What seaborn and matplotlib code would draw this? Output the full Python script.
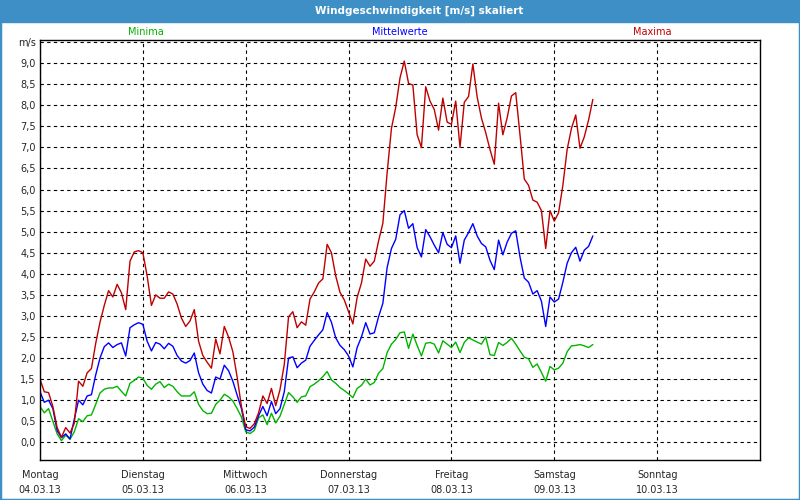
import numpy as np
import pandas as pd
import matplotlib
matplotlib.use("Agg")
import matplotlib.pyplot as plt
import seaborn as sns
from matplotlib.patches import Rectangle

# Stundenwerte ab Montag 04.03.13 00:00
maxima = [1.5, 1.2, 1.18, 0.85, 0.35, 0.12, 0.35, 0.22, 0.45, 1.45, 1.33, 1.65, 1.75, 2.35, 2.85, 3.25,
          3.6, 3.45, 3.75, 3.55, 3.15, 4.3, 4.52, 4.55, 4.5,
          3.95, 3.25, 3.5, 3.42, 3.42, 3.57, 3.52, 3.28, 2.95, 2.75, 2.88, 3.15, 2.4, 2.06, 1.9, 1.76,
          2.45, 2.1, 2.75, 2.5, 2.15, 1.55, 0.85, 0.37,
          0.33, 0.44, 0.7, 1.1, 0.92, 1.28, 0.87, 1.25, 1.85, 2.98, 3.1, 2.72, 2.86, 2.78, 3.4, 3.57,
          3.78, 3.88, 4.7, 4.5, 3.95, 3.56, 3.38, 3.1,
          2.81, 3.44, 3.78, 4.35, 4.18, 4.3, 4.78, 5.2, 6.4, 7.45, 7.95, 8.65, 9.05, 8.52, 8.48, 7.3,
          7.0, 8.44, 8.1, 7.9, 7.41, 8.17, 7.6, 7.55,
          8.1, 7.0, 8.07, 8.21, 8.98, 8.2, 7.7, 7.35, 6.95, 6.6, 8.05, 7.3, 7.7, 8.22, 8.3, 7.3,
          6.25, 6.1, 5.75, 5.7, 5.5, 4.6, 5.5, 5.25, 5.45, 6.1, 6.95, 7.45, 7.77, 6.98, 7.25, 7.65, 8.14]

mittelwerte = [1.2, 0.95, 1.0, 0.8, 0.28, 0.11, 0.2, 0.08, 0.55, 1.0, 0.89, 1.1, 1.13, 1.6, 2.0, 2.27,
               2.36, 2.25, 2.32, 2.36, 2.05, 2.72, 2.79, 2.84, 2.8,
               2.4, 2.17, 2.37, 2.33, 2.22, 2.35, 2.28, 2.06, 1.93, 1.88, 1.94, 2.12, 1.65, 1.38, 1.23, 1.17,
               1.55, 1.5, 1.83, 1.7, 1.45, 1.12, 0.8, 0.3,
               0.27, 0.36, 0.63, 0.85, 0.63, 0.97, 0.68, 0.8, 1.2, 2.0, 2.03, 1.77, 1.88, 1.95, 2.28, 2.42,
               2.55, 2.67, 3.08, 2.85, 2.48, 2.3, 2.2, 2.05,
               1.79, 2.25, 2.5, 2.84, 2.57, 2.6, 2.98, 3.3, 4.15, 4.6, 4.82, 5.4, 5.5, 5.08, 5.19, 4.62,
               4.4, 5.05, 4.88, 4.68, 4.5, 4.98, 4.7, 4.62,
               4.9, 4.25, 4.8, 4.98, 5.19, 4.9, 4.72, 4.64, 4.32, 4.1, 4.8, 4.45, 4.75, 4.96, 5.02, 4.4,
               3.9, 3.8, 3.52, 3.6, 3.35, 2.75, 3.45, 3.33, 3.4, 3.8, 4.25, 4.5, 4.63, 4.3, 4.56, 4.65, 4.9]

minima = [0.85, 0.7, 0.8, 0.5, 0.2, 0.04, 0.17, 0.07, 0.25, 0.56, 0.49, 0.63, 0.65, 0.9, 1.17, 1.26,
          1.29, 1.29, 1.33, 1.21, 1.1, 1.4, 1.47, 1.55, 1.52,
          1.35, 1.26, 1.38, 1.44, 1.3, 1.38, 1.33, 1.2, 1.1, 1.1, 1.1, 1.2, 0.9, 0.75, 0.68, 0.69,
          0.9, 1.0, 1.14, 1.08, 0.98, 0.8, 0.6, 0.25,
          0.21, 0.28, 0.58, 0.65, 0.42, 0.69, 0.46, 0.62, 0.9, 1.18, 1.08, 0.95, 1.08, 1.1, 1.32, 1.38,
          1.46, 1.56, 1.68, 1.48, 1.4, 1.3, 1.23, 1.15,
          1.06, 1.28, 1.35, 1.5, 1.36, 1.42, 1.64, 1.75, 2.13, 2.33, 2.44, 2.6, 2.62, 2.23, 2.57, 2.3,
          2.05, 2.35, 2.37, 2.33, 2.12, 2.41, 2.33, 2.25,
          2.38, 2.13, 2.37, 2.48, 2.43, 2.38, 2.33, 2.5, 2.08, 2.06, 2.37, 2.3, 2.37, 2.47, 2.33, 2.17,
          2.02, 1.98, 1.78, 1.86, 1.66, 1.45, 1.8, 1.72, 1.76, 1.88, 2.15, 2.29, 2.3, 2.32, 2.29, 2.25, 2.32]

tage = ["Montag", "Dienstag", "Mittwoch", "Donnerstag", "Freitag", "Samstag", "Sonntag"]
daten = ["04.03.13", "05.03.13", "06.03.13", "07.03.13", "08.03.13", "09.03.13", "10.03.13"]

stunden = np.arange(len(maxima))
df = pd.DataFrame({
    "stunde": np.concatenate([stunden] * 3),
    "wert": minima + mittelwerte + maxima,
    "reihe": ["Minima"] * len(minima) + ["Mittelwerte"] * len(mittelwerte) + ["Maxima"] * len(maxima),
})

farben = {"Minima": "#00b400", "Mittelwerte": "#0000ff", "Maxima": "#c00000"}
blau = "#3d8fc6"

sns.set_style("white")
plt.rcParams["font.family"] = ["DejaVu Sans"]

fig = plt.figure(figsize=(8, 5), dpi=100)
ax = fig.add_axes([0.05, 0.08, 0.9, 0.84])

sns.lineplot(data=df, x="stunde", y="wert", hue="reihe", palette=farben,
             linewidth=1.0, legend=False, ax=ax)

ax.set_xlim(0, 168)
ax.set_ylim(-0.42, 9.55)

yticks = np.arange(0, 9.51, 0.5)
ylabels = [f"{v:.1f}".replace(".", ",") for v in yticks[:-1]] + ["m/s"]
ax.set_yticks(yticks)
ax.set_yticklabels(ylabels, fontsize=7)
ax.set_xticks(np.arange(0, 168, 24))
ax.set_xticklabels([f"{t}\n{d}" for t, d in zip(tage, daten)], fontsize=7, linespacing=1.6)
ax.tick_params(length=0, pad=3)
ax.tick_params(axis="x", pad=7)
ax.set_xlabel("")
ax.set_ylabel("")

ax.grid(True, color="black", linestyle=(0, (3, 3)), linewidth=0.8)
for s in ax.spines.values():
    s.set_color("black")
    s.set_linewidth(1.0)

# Titelleiste und Rahmen
fig.patches.append(Rectangle((0, 1 - 22 / 500), 1, 22 / 500, transform=fig.transFigure,
                             color=blau, zorder=0))
fig.patches.append(Rectangle((0, 0), 1, 1, transform=fig.transFigure, fill=False,
                             edgecolor=blau, linewidth=2.5, zorder=0))
fig.text(419 / 800, 1 - 11 / 500, "Windgeschwindigkeit [m/s] skaliert", color="white",
         fontsize=7.5, fontweight="bold", ha="center", va="center")

fig.text(146 / 800, 1 - 32 / 500, "Minima", color=farben["Minima"], fontsize=7, ha="center", va="center")
fig.text(400 / 800, 1 - 32 / 500, "Mittelwerte", color=farben["Mittelwerte"], fontsize=7, ha="center", va="center")
fig.text(652 / 800, 1 - 32 / 500, "Maxima", color=farben["Maxima"], fontsize=7, ha="center", va="center")

fig.savefig("out.png", dpi=100)
